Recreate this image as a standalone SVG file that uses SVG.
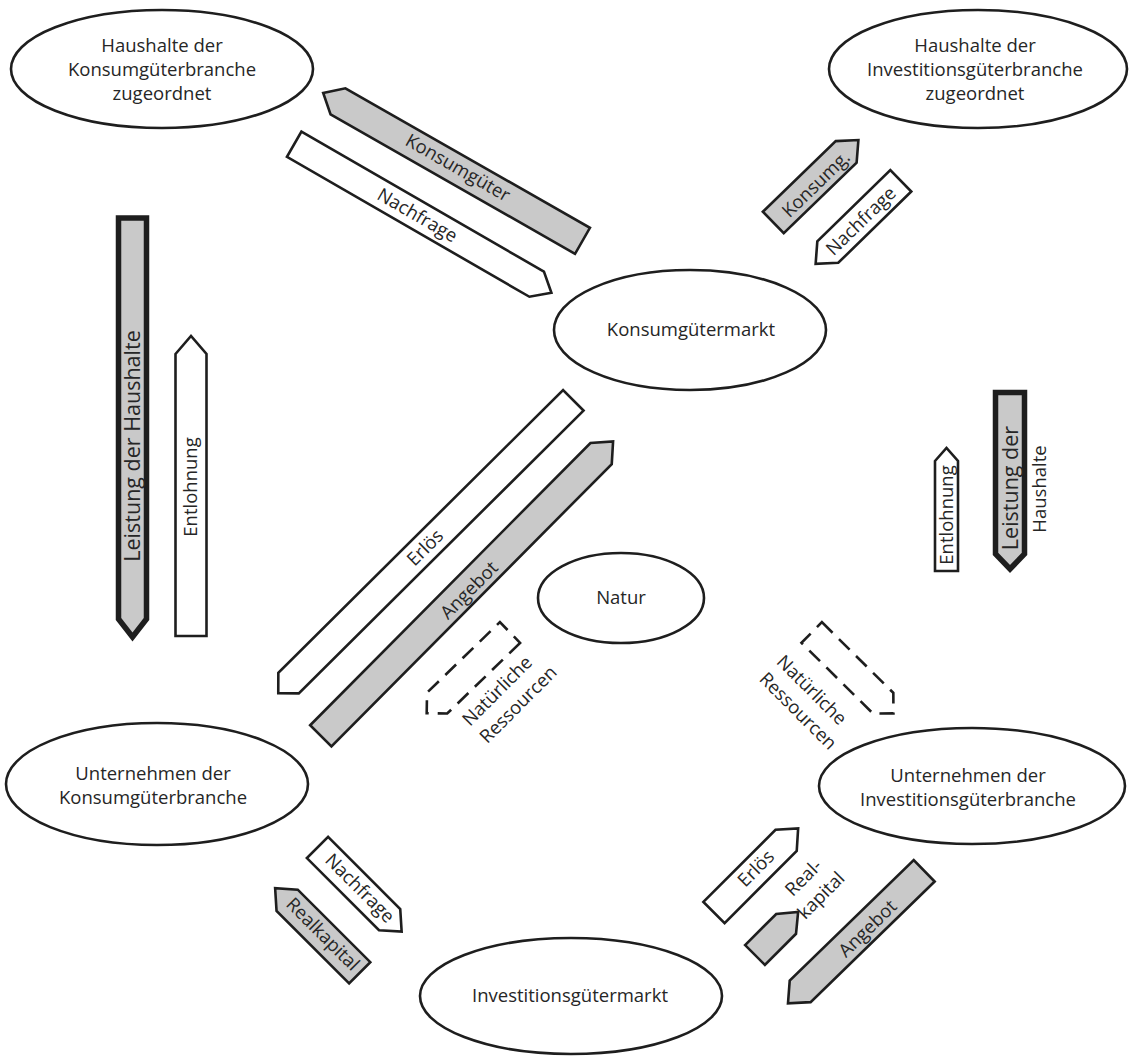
<svg xmlns="http://www.w3.org/2000/svg" width="1130" height="1057" viewBox="0 0 1130 1057">
<style>
.node ellipse{fill:#fff;stroke:#1e1e1e;stroke-width:2.6}
text{font-family:"Open Sans","Noto Sans","Liberation Sans",sans-serif;font-size:18.5px;fill:#262626}
.c{text-anchor:middle}
.big{font-size:21.5px}
.w{fill:#fff;stroke:#1e1e1e;stroke-width:2.6;stroke-linejoin:miter}
.g{fill:#c9c9c9;stroke:#1e1e1e;stroke-width:2.6;stroke-linejoin:miter}
.gt{fill:#c9c9c9;stroke:#1e1e1e;stroke-width:5.5;stroke-linejoin:miter}
.d{fill:#fff;stroke:#1e1e1e;stroke-width:2.6;stroke-dasharray:15 9}
</style>
<rect width="1130" height="1057" fill="#fff"/>
<g id="hh-konsum" class="node">
<ellipse cx="162" cy="69" rx="151" ry="59"/>
<text class="c" x="162" y="52">Haushalte der<tspan x="162" dy="24">Konsumgüterbranche</tspan><tspan x="162" dy="24">zugeordnet</tspan></text>
</g>
<g id="hh-invest" class="node">
<ellipse cx="978" cy="69" rx="149" ry="59"/>
<text class="c" x="975" y="52">Haushalte der<tspan x="975" dy="24">Investitionsgüterbranche</tspan><tspan x="975" dy="24">zugeordnet</tspan></text>
</g>
<g id="konsumguetermarkt" class="node">
<ellipse cx="690" cy="330" rx="136" ry="60"/>
<text class="c" x="691" y="336">Konsumgütermarkt</text>
</g>
<g id="natur" class="node">
<ellipse cx="621" cy="598" rx="83" ry="45"/>
<text class="c" x="621" y="604">Natur</text>
</g>
<g id="u-konsum" class="node">
<ellipse cx="157" cy="784" rx="151" ry="61"/>
<text class="c" x="153" y="780">Unternehmen der<tspan x="153" dy="24">Konsumgüterbranche</tspan></text>
</g>
<g id="u-invest" class="node">
<ellipse cx="972" cy="786" rx="153" ry="58"/>
<text class="c" x="968" y="782">Unternehmen der<tspan x="968" dy="24">Investitionsgüterbranche</tspan></text>
</g>
<g id="investitionsguetermarkt" class="node">
<ellipse cx="571" cy="996" rx="151" ry="58"/>
<text class="c" x="570" y="1002">Investitionsgütermarkt</text>
</g>
<g id="connectors">
<polygon class="g" transform="translate(582.5,240.8) rotate(209.7)" points="0,-15 281.5,-15 298.5,0 281.5,15 0,15"/>
<text class="c" transform="translate(458,167.5) rotate(29.7)" dy="0.35em">Konsumgüter</text>
<polygon class="w" transform="translate(294.2,144.2) rotate(30)" points="0,-14.5 280,-14.5 297,0 280,14.5 0,14.5"/>
<text class="c" transform="translate(417.5,215) rotate(30)" dy="0.35em">Nachfrage</text>
<polygon class="g" transform="translate(773.3,222.5) rotate(-44.1)" points="0,-15 101.5,-15 118.5,0 101.5,15 0,15"/>
<text class="c" transform="translate(815.8,184) rotate(-44.1)" dy="0.35em">Konsumg.</text>
<polygon class="w" transform="translate(900.8,180.8) rotate(135.7)" points="0,-15 102,-15 119,0 102,15 0,15"/>
<text class="c" transform="translate(860.8,220.8) rotate(-44.3)" dy="0.35em">Nachfrage</text>
<polygon class="gt" points="118.5,218 146.5,218 146.5,619 132.5,637 118.5,619"/>
<text class="c big" transform="translate(132.5,446) rotate(-90)" dy="0.35em">Leistung der Haushalte</text>
<polygon class="w" points="175.5,354 191,336 206.5,354 206.5,636 175.5,636"/>
<text class="c" transform="translate(191,487) rotate(-90)" dy="0.35em">Entlohnung</text>
<polygon class="w" points="935,461 946.5,448 958,461 958,571 935,571"/>
<text class="c" transform="translate(946.5,515) rotate(-90)" dy="0.35em">Entlohnung</text>
<polygon class="gt" points="995.5,392.5 1024.5,392.5 1024.5,554 1010,569 995.5,554"/>
<text class="c big" transform="translate(1010,488) rotate(-90)" dy="0.35em">Leistung der</text>
<text class="c" transform="translate(1040,489) rotate(-90)" dy="0.35em">Haushalte</text>
<polygon class="w" transform="translate(573.3,400.3) rotate(135.2)" points="0,-14.5 401.3,-14.5 415.8,0 401.3,14.5 0,14.5"/>
<text class="c" transform="translate(425,547.5) rotate(-44.8)" dy="0.35em">Erlös</text>
<polygon class="g" transform="translate(320.8,735.8) rotate(-45.2)" points="0,-15 397.8,-15 414.8,0 397.8,15 0,15"/>
<text class="c" transform="translate(469,590) rotate(-45.2)" dy="0.35em">Angebot</text>
<polygon class="d" transform="translate(510,632.5) rotate(135.9)" points="0,-14.5 101.5,-14.5 116,0 101.5,14.5 0,14.5"/>
<text transform="translate(470,727) rotate(-45)">Natürliche<tspan x="0" dy="24.5">Ressourcen</tspan></text>
<polygon class="d" transform="translate(811.7,632.5) rotate(44.7)" points="0,-14.5 100.5,-14.5 115,0 100.5,14.5 0,14.5"/>
<text transform="translate(775.6,662.8) rotate(45)">Natürliche<tspan x="0" dy="24.5">Ressourcen</tspan></text>
<polygon class="w" transform="translate(317.5,847.5) rotate(45)" points="0,-15 102,-15 119,0 102,15 0,15"/>
<text class="c" transform="translate(360,888) rotate(45)" dy="0.35em">Nachfrage</text>
<polygon class="g" transform="translate(359.7,972.8) rotate(225)" points="0,-15 102.6,-15 119.6,0 102.6,15 0,15"/>
<text class="c" transform="translate(323,934) rotate(45)" dy="0.35em">Realkapital</text>
<polygon class="w" transform="translate(714,912.5) rotate(-45)" points="0,-15 102,-15 119,0 102,15 0,15"/>
<text class="c" transform="translate(755.8,868.3) rotate(-45)" dy="0.35em">Erlös</text>
<polygon class="g" transform="translate(755,955) rotate(-45)" points="0,-14 44,-14 61,0 44,14 0,14"/>
<text class="c" transform="translate(807.8,882.2) rotate(-45)">Real-<tspan x="0" dy="25">kapital</tspan></text>
<polygon class="g" transform="translate(924.2,870.8) rotate(135.8)" points="0,-15 173,-15 190,0 173,15 0,15"/>
<text class="c" transform="translate(867.5,928.3) rotate(-44.2)" dy="0.35em">Angebot</text>
</g>
</svg>
